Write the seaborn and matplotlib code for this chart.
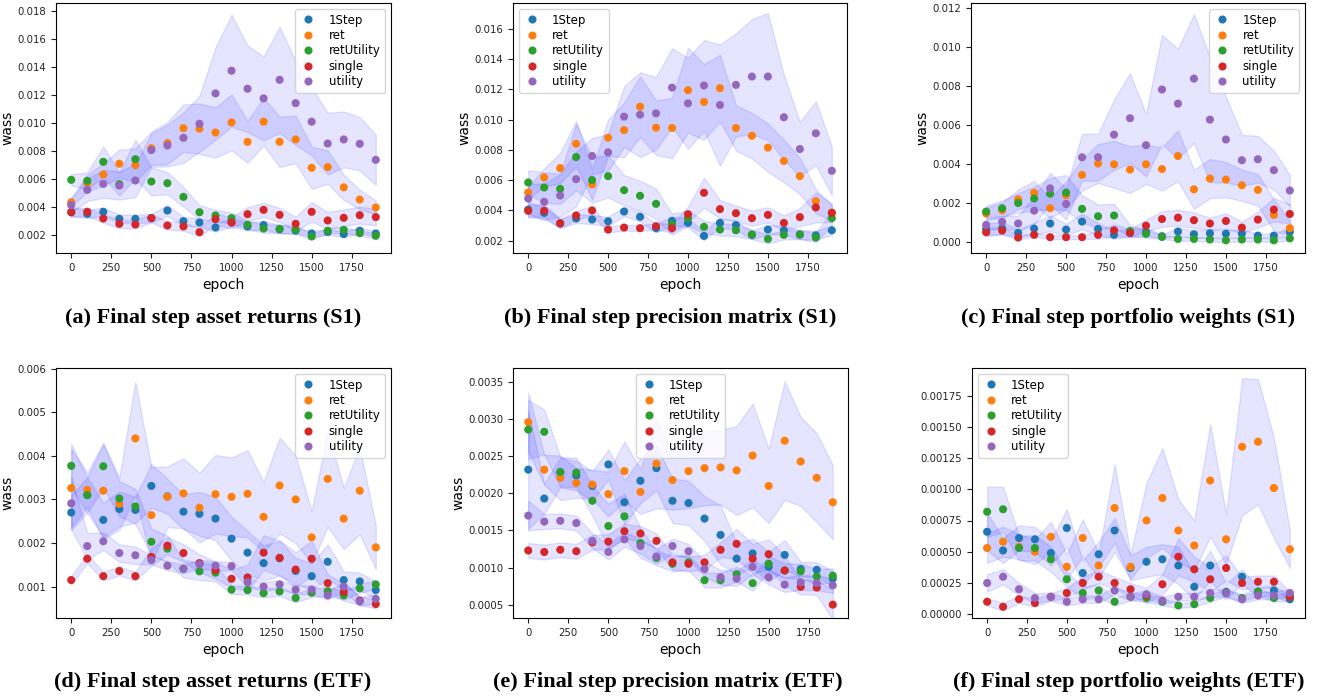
import numpy as np
import pandas as pd
import matplotlib
matplotlib.use("Agg")
import matplotlib.pyplot as plt
import seaborn as sns
from matplotlib.transforms import Bbox, TransformedBbox

epochs = list(range(0, 2000, 100))
methods = ['1Step', 'ret', 'retUtility', 'single', 'utility']

""" (a) asset returns S1 """
a_mean = {
	'1Step': [0.00362, 0.0035, 0.00365, 0.00315, 0.00315, 0.0032, 0.00374, 0.00298, 0.00288, 0.00253, 0.0029, 0.0026, 0.0027, 0.0024, 0.0023, 0.0021, 0.0022, 0.00205, 0.0023, 0.0021],
	'ret': [0.00434, 0.0057, 0.00632, 0.00709, 0.00699, 0.0082, 0.00857, 0.00964, 0.0096, 0.00933, 0.01005, 0.00866, 0.0101, 0.00866, 0.00883, 0.0068, 0.00685, 0.0054, 0.00453, 0.00396],
	'retUtility': [0.00594, 0.00587, 0.00723, 0.00563, 0.00742, 0.00582, 0.0057, 0.00472, 0.00362, 0.00339, 0.0032, 0.00272, 0.00245, 0.00243, 0.00236, 0.00188, 0.00229, 0.00236, 0.00212, 0.00193],
	'single': [0.00362, 0.00365, 0.00317, 0.00279, 0.00274, 0.0032, 0.00267, 0.0026, 0.00219, 0.00312, 0.00288, 0.00348, 0.00379, 0.00343, 0.00279, 0.00365, 0.00303, 0.00322, 0.00341, 0.00327],
	'utility': [0.00413, 0.00522, 0.00565, 0.00553, 0.00589, 0.00807, 0.0084, 0.00895, 0.00995, 0.01213, 0.01375, 0.01246, 0.01177, 0.0131, 0.01143, 0.0101, 0.00854, 0.00883, 0.00852, 0.00737],
}
a_sd = {
	'1Step': [0.0003, 0.0003, 0.0003, 0.0003, 0.0003, 0.0003, 0.0004, 0.0003, 0.0003, 0.0003, 0.0003, 0.0003, 0.0003, 0.0003, 0.0002, 0.0002, 0.0002, 0.0002, 0.0002, 0.0002],
	'ret': [0.0003, 0.0006, 0.0008, 0.0010, 0.0012, 0.0012, 0.0015, 0.0017, 0.0018, 0.0018, 0.0020, 0.0015, 0.0017, 0.0018, 0.0017, 0.0015, 0.0012, 0.0009, 0.0007, 0.0005],
	'retUtility': [0.0004, 0.0006, 0.0011, 0.0008, 0.0014, 0.0010, 0.0008, 0.0007, 0.0005, 0.0004, 0.0004, 0.0003, 0.0003, 0.0003, 0.0003, 0.0002, 0.0002, 0.0002, 0.0002, 0.0002],
	'single': [0.0003, 0.0003, 0.0003, 0.0003, 0.0003, 0.0003, 0.0003, 0.0003, 0.0003, 0.0004, 0.0004, 0.0005, 0.0005, 0.0005, 0.0005, 0.0007, 0.0006, 0.0006, 0.0006, 0.0006],
	'utility': [0.0005, 0.0008, 0.0010, 0.0010, 0.0012, 0.0012, 0.0015, 0.0018, 0.0020, 0.0033, 0.0040, 0.0031, 0.0030, 0.0038, 0.0030, 0.0024, 0.0022, 0.0020, 0.0019, 0.0018],
}

""" (b) precision matrix S1 """
b_mean = {
	'1Step': [0.00405, 0.00383, 0.00313, 0.00346, 0.00339, 0.00328, 0.00392, 0.00357, 0.00282, 0.0033, 0.00317, 0.00231, 0.00317, 0.00302, 0.00238, 0.00273, 0.00268, 0.0024, 0.00235, 0.00268],
	'ret': [0.00518, 0.00617, 0.00679, 0.0084, 0.00571, 0.0088, 0.0093, 0.01085, 0.00946, 0.00944, 0.01194, 0.01116, 0.01207, 0.00944, 0.00893, 0.00814, 0.00726, 0.00626, 0.0046, 0.00385],
	'retUtility': [0.00584, 0.00551, 0.00542, 0.00752, 0.006, 0.00626, 0.00533, 0.00496, 0.00443, 0.00308, 0.00348, 0.00291, 0.00273, 0.00268, 0.0024, 0.00211, 0.00238, 0.0024, 0.0022, 0.00348],
	'single': [0.00397, 0.00397, 0.00315, 0.00366, 0.00399, 0.00273, 0.00286, 0.00282, 0.00295, 0.00282, 0.00374, 0.00516, 0.00408, 0.00381, 0.00348, 0.0037, 0.00317, 0.00355, 0.00419, 0.00383],
	'utility': [0.00478, 0.00456, 0.00498, 0.00606, 0.00759, 0.00783, 0.01019, 0.01032, 0.01041, 0.01211, 0.01107, 0.01225, 0.01096, 0.01229, 0.01284, 0.01284, 0.01015, 0.00805, 0.00909, 0.00661],
}
b_sd = {
	'1Step': [0.0005, 0.0004, 0.0003, 0.0003, 0.0003, 0.0003, 0.0003, 0.0003, 0.0003, 0.0003, 0.0003, 0.0003, 0.0003, 0.0003, 0.0003, 0.0003, 0.0003, 0.0003, 0.0003, 0.0003],
	'ret': [0.0004, 0.0006, 0.0010, 0.0015, 0.0010, 0.0012, 0.0018, 0.0020, 0.0018, 0.0020, 0.0028, 0.0025, 0.0022, 0.0015, 0.0015, 0.0016, 0.0014, 0.0012, 0.0008, 0.0005],
	'retUtility': [0.0008, 0.0010, 0.0010, 0.0022, 0.0015, 0.0014, 0.0010, 0.0010, 0.0010, 0.0007, 0.0005, 0.0004, 0.0004, 0.0004, 0.0003, 0.0003, 0.0003, 0.0003, 0.0003, 0.0005],
	'single': [0.0004, 0.0004, 0.0003, 0.0003, 0.0003, 0.0002, 0.0002, 0.0002, 0.0002, 0.0003, 0.0005, 0.0010, 0.0006, 0.0005, 0.0005, 0.0005, 0.0005, 0.0006, 0.0010, 0.0006],
	'utility': [0.0010, 0.0012, 0.0014, 0.0018, 0.0012, 0.0012, 0.0020, 0.0028, 0.0024, 0.0026, 0.0030, 0.0030, 0.0040, 0.0034, 0.0038, 0.0042, 0.0028, 0.0018, 0.0021, 0.0016],
}

""" (c) portfolio weights S1 """
c_mean = {
	'1Step': [0.00068, 0.00072, 0.00048, 0.0007, 0.00096, 0.00065, 0.00106, 0.00068, 0.00038, 0.00048, 0.00053, 0.00031, 0.00055, 0.00041, 0.00046, 0.00044, 0.00044, 0.00034, 0.00034, 0.00053],
	'ret': [0.00147, 0.00164, 0.0022, 0.00253, 0.00174, 0.00241, 0.00345, 0.00403, 0.00399, 0.00372, 0.00399, 0.00375, 0.00442, 0.00271, 0.00326, 0.00321, 0.00292, 0.00268, 0.0014, 0.00072],
	'retUtility': [0.00157, 0.00174, 0.00201, 0.00224, 0.00249, 0.00254, 0.00171, 0.00133, 0.00137, 0.00058, 0.00043, 0.00027, 0.00017, 0.00017, 0.00014, 0.0001, 0.00014, 0.00014, 0.0001, 0.0002],
	'single': [0.00051, 0.0006, 0.00024, 0.00038, 0.00026, 0.00026, 0.00026, 0.00038, 0.00061, 0.00048, 0.00085, 0.00119, 0.00126, 0.00113, 0.00096, 0.00109, 0.00075, 0.00116, 0.00167, 0.00145],
	'utility': [0.00089, 0.00104, 0.00096, 0.00162, 0.00276, 0.00196, 0.00435, 0.00435, 0.00551, 0.00635, 0.00497, 0.00782, 0.0071, 0.00838, 0.00628, 0.00526, 0.0042, 0.00425, 0.00369, 0.00265],
}
c_sd = {
	'1Step': [0.0003, 0.0003, 0.0002, 0.0003, 0.0004, 0.0003, 0.0004, 0.0003, 0.0002, 0.0002, 0.0002, 0.0001, 0.0002, 0.0002, 0.0002, 0.0002, 0.0002, 0.0001, 0.0001, 0.0002],
	'ret': [0.0003, 0.0004, 0.0005, 0.0006, 0.0005, 0.0007, 0.0008, 0.0010, 0.0012, 0.0012, 0.0010, 0.0011, 0.0013, 0.0010, 0.0010, 0.0009, 0.0008, 0.0008, 0.0008, 0.0004],
	'retUtility': [0.0003, 0.0004, 0.0005, 0.0006, 0.0008, 0.0009, 0.0007, 0.0006, 0.0006, 0.0003, 0.0002, 0.0001, 0.0001, 0.0001, 0.0001, 0.0001, 0.0001, 0.0001, 0.0001, 0.0001],
	'single': [0.0002, 0.0002, 0.0001, 0.0001, 0.0001, 0.0001, 0.0001, 0.0002, 0.0003, 0.0002, 0.0003, 0.0004, 0.0004, 0.0004, 0.0003, 0.0004, 0.0003, 0.0004, 0.0006, 0.0005],
	'utility': [0.0003, 0.0003, 0.0004, 0.0007, 0.0008, 0.0008, 0.0012, 0.0012, 0.0018, 0.0023, 0.0016, 0.0028, 0.0028, 0.0033, 0.0032, 0.0022, 0.0013, 0.0012, 0.0010, 0.0008],
}

""" (d) asset returns ETF """
d_mean = {
	'1Step': [0.0027, 0.0031, 0.00253, 0.00278, 0.00276, 0.00331, 0.00307, 0.00272, 0.00267, 0.00256, 0.0021, 0.00178, 0.00154, 0.00165, 0.00136, 0.00124, 0.00157, 0.00115, 0.00112, 0.00092],
	'ret': [0.00326, 0.00322, 0.0032, 0.0029, 0.0044, 0.00264, 0.00306, 0.00314, 0.00281, 0.00312, 0.00306, 0.00313, 0.0026, 0.00332, 0.003, 0.00213, 0.00347, 0.00256, 0.0032, 0.0019],
	'retUtility': [0.00377, 0.0031, 0.00376, 0.00302, 0.00284, 0.00203, 0.00187, 0.00141, 0.00135, 0.00132, 0.00093, 0.00092, 0.00085, 0.00089, 0.00074, 0.00086, 0.00089, 0.0008, 0.00096, 0.00105],
	'single': [0.00115, 0.00164, 0.00124, 0.00136, 0.00124, 0.00168, 0.00194, 0.00177, 0.00154, 0.00138, 0.00118, 0.00121, 0.00178, 0.00166, 0.00139, 0.00164, 0.00108, 0.00088, 0.00068, 0.0006],
	'utility': [0.00291, 0.00193, 0.00204, 0.00177, 0.00172, 0.00161, 0.00148, 0.00141, 0.00151, 0.00148, 0.00147, 0.0011, 0.001, 0.00105, 0.00093, 0.00093, 0.0008, 0.001, 0.00066, 0.00072],
}
d_sd = {
	'1Step': [0.0004, 0.0004, 0.0004, 0.0004, 0.0003, 0.0005, 0.0004, 0.0004, 0.0005, 0.0005, 0.0005, 0.0005, 0.0004, 0.0004, 0.0003, 0.0003, 0.0004, 0.0002, 0.0002, 0.0002],
	'ret': [0.0009, 0.0004, 0.0011, 0.0006, 0.0013, 0.0011, 0.0007, 0.0008, 0.0008, 0.0009, 0.0009, 0.0010, 0.0008, 0.0011, 0.0010, 0.0006, 0.0011, 0.0007, 0.0010, 0.0005],
	'retUtility': [0.0005, 0.0004, 0.0005, 0.0004, 0.0004, 0.0003, 0.0003, 0.0002, 0.0002, 0.0002, 0.0001, 0.0001, 0.0001, 0.0001, 0.0001, 0.0001, 0.0001, 0.0001, 0.0001, 0.0001],
	'single': [0.0001, 0.0001, 0.0001, 0.0001, 0.0001, 0.0002, 0.0002, 0.0002, 0.0002, 0.0002, 0.0002, 0.0003, 0.0004, 0.0004, 0.0004, 0.0004, 0.0002, 0.0002, 0.0001, 0.0001],
	'utility': [0.0006, 0.0003, 0.0002, 0.0002, 0.0002, 0.0001, 0.0001, 0.0001, 0.0001, 0.0001, 0.0001, 0.0001, 0.0001, 0.0001, 0.0001, 0.0001, 0.0001, 0.0001, 0.0001, 0.0001],
}

""" (e) precision matrix ETF """
e_mean = {
	'1Step': [0.00232, 0.00193, 0.00228, 0.00224, 0.0021, 0.00239, 0.00188, 0.00217, 0.00234, 0.0019, 0.00187, 0.00166, 0.00144, 0.00112, 0.00119, 0.00101, 0.00117, 0.00098, 0.00097, 0.00085],
	'ret': [0.00296, 0.00232, 0.00221, 0.00214, 0.00212, 0.00199, 0.0023, 0.00202, 0.0024, 0.00218, 0.0023, 0.00234, 0.00235, 0.00231, 0.00251, 0.0021, 0.00271, 0.00243, 0.00221, 0.00188],
	'retUtility': [0.00286, 0.00283, 0.00229, 0.00228, 0.0019, 0.00156, 0.00169, 0.00133, 0.00113, 0.00105, 0.00107, 0.00083, 0.00083, 0.00091, 0.00079, 0.00105, 0.00096, 0.00095, 0.00088, 0.00089],
	'single': [0.00123, 0.00121, 0.00124, 0.00122, 0.00134, 0.00135, 0.00149, 0.00146, 0.00136, 0.00107, 0.00105, 0.00107, 0.00124, 0.00132, 0.00112, 0.00118, 0.00096, 0.00074, 0.00073, 0.0005],
	'utility': [0.0017, 0.00162, 0.00163, 0.0016, 0.00136, 0.00121, 0.00138, 0.00129, 0.00115, 0.00129, 0.00122, 0.00098, 0.00087, 0.00085, 0.00101, 0.00087, 0.00077, 0.0008, 0.00079, 0.00076],
}
e_sd = {
	'1Step': [0.0008, 0.0002, 0.0002, 0.0002, 0.0002, 0.0002, 0.0003, 0.0003, 0.0003, 0.0003, 0.0003, 0.0003, 0.0004, 0.0002, 0.0002, 0.0002, 0.0002, 0.0001, 0.0001, 0.0001],
	'ret': [0.0004, 0.0002, 0.0003, 0.0002, 0.0002, 0.0003, 0.0004, 0.0003, 0.0006, 0.0004, 0.0005, 0.0005, 0.0005, 0.0006, 0.0007, 0.0005, 0.0008, 0.0006, 0.0006, 0.0005],
	'retUtility': [0.0004, 0.0003, 0.0002, 0.0002, 0.0002, 0.0003, 0.0003, 0.0002, 0.0001, 0.0001, 0.0001, 0.0001, 0.0001, 0.0001, 0.0001, 0.0001, 0.0001, 0.0001, 0.0001, 0.0001],
	'single': [0.0001, 0.0001, 0.0001, 0.0001, 0.0001, 0.0001, 0.0001, 0.0001, 0.0001, 0.0001, 0.0001, 0.0001, 0.0001, 0.0002, 0.0002, 0.0002, 0.0002, 0.0001, 0.0001, 0.0002],
	'utility': [0.0002, 0.0001, 0.0001, 0.0001, 0.0001, 0.0001, 0.0001, 0.0001, 0.0001, 0.0001, 0.0001, 0.0001, 0.0001, 0.0001, 0.0001, 0.0001, 0.0001, 0.0001, 0.0001, 0.0001],
}

""" (f) portfolio weights ETF """
f_mean = {
	'1Step': [0.00066, 0.00051, 0.00061, 0.0006, 0.00049, 0.00069, 0.00033, 0.00048, 0.00067, 0.00037, 0.00042, 0.00044, 0.00039, 0.00022, 0.00039, 0.00018, 0.0003, 0.00018, 0.00019, 0.00012],
	'ret': [0.00053, 0.00058, 0.00054, 0.0005, 0.00062, 0.00038, 0.00061, 0.00039, 0.00085, 0.00038, 0.00075, 0.00093, 0.00067, 0.00055, 0.00107, 0.0006, 0.00134, 0.00138, 0.00101, 0.00052],
	'retUtility': [0.00082, 0.00084, 0.00053, 0.00053, 0.00044, 0.00028, 0.00017, 0.00019, 0.0001, 0.00014, 0.00013, 0.0001, 0.00007, 0.00008, 0.00013, 0.00017, 0.00013, 0.00018, 0.00013, 0.00014],
	'single': [0.0001, 0.00006, 0.00012, 0.00009, 0.00014, 0.00017, 0.00025, 0.0003, 0.00025, 0.0002, 0.00015, 0.00024, 0.00046, 0.00036, 0.00028, 0.00037, 0.00025, 0.00026, 0.00026, 0.00014],
	'utility': [0.00025, 0.0003, 0.0002, 0.00013, 0.00014, 0.0001, 0.00012, 0.00012, 0.00019, 0.00014, 0.00016, 0.00011, 0.00014, 0.00014, 0.00017, 0.00017, 0.00012, 0.00015, 0.00015, 0.00017],
}
f_sd = {
	'1Step': [0.00015, 0.0001, 0.0001, 0.0001, 0.0001, 0.00015, 0.0001, 0.0001, 0.0001, 0.0001, 0.00012, 0.00012, 0.00015, 0.0001, 0.00012, 0.00006, 0.00006, 0.00004, 0.00004, 0.00003],
	'ret': [0.00012, 0.00012, 0.0001, 0.0001, 0.00012, 0.0001, 0.00015, 0.0001, 0.00035, 0.0001, 0.0003, 0.0004, 0.00025, 0.0002, 0.00045, 0.0002, 0.00055, 0.0005, 0.0004, 0.00015],
	'retUtility': [0.0002, 0.00018, 0.0001, 0.0001, 0.0001, 0.00006, 0.00005, 0.00005, 0.00003, 0.00003, 0.00003, 0.00003, 0.00002, 0.00002, 0.00003, 0.00003, 0.00003, 0.00003, 0.00003, 0.00003],
	'single': [0.00003, 0.00003, 0.00003, 0.00003, 0.00003, 0.00004, 0.00005, 0.00005, 0.00005, 0.00005, 0.00006, 0.00008, 0.00015, 0.0001, 0.0001, 0.0001, 0.00005, 0.00005, 0.00005, 0.00004],
	'utility': [0.00007, 0.00006, 0.00005, 0.00004, 0.00003, 0.00003, 0.00003, 0.00003, 0.00003, 0.00003, 0.00003, 0.00003, 0.00003, 0.00003, 0.00003, 0.00003, 0.00003, 0.00003, 0.00003, 0.00003],
}

captions = ["(a) Final step asset returns (S1)",
			"(b) Final step precision matrix (S1)",
			"(c) Final step portfolio weights (S1)",
			"(d) Final step asset returns (ETF)",
			"(e) Final step precision matrix (ETF)",
			"(f) Final step portfolio weights (ETF)"]

a_yticks = [0.002, 0.004, 0.006, 0.008, 0.010, 0.012, 0.014, 0.016, 0.018]
b_yticks = [0.002, 0.004, 0.006, 0.008, 0.010, 0.012, 0.014, 0.016]
c_yticks = [0.000, 0.002, 0.004, 0.006, 0.008, 0.010, 0.012]
d_yticks = [0.001, 0.002, 0.003, 0.004, 0.005, 0.006]
e_yticks = [0.0005, 0.0010, 0.0015, 0.0020, 0.0025, 0.0030, 0.0035]
f_yticks = [0.0, 0.00025, 0.0005, 0.00075, 0.001, 0.00125, 0.0015, 0.00175]


def longForm(mean):
	""" stack a dict of series into a long dataframe for seaborn """
	rows = []
	for m in methods:
		for ep, v in zip(epochs, mean[m]):
			rows.append({'epoch': ep, 'wass': v, 'method': m})
	return pd.DataFrame(rows)


def panel(ax, mean, sd, yticks, ylim, fmt, loc):
	for m in methods:
		mu = np.array(mean[m])
		s = np.array(sd[m])
		ax.fill_between(epochs, mu - s, mu + s, color='blue', alpha=0.1)
	sns.scatterplot(data=longForm(mean), x='epoch', y='wass', hue='method',
					hue_order=methods, palette='tab10', s=34, linewidth=0, ax=ax, zorder=3)
	ax.set_xlim(-95, 1995)
	ax.set_ylim(*ylim)
	ax.set_xticks([0, 250, 500, 750, 1000, 1250, 1500, 1750])
	ax.set_yticks(yticks)
	ax.set_yticklabels([fmt % t for t in yticks])
	ax.tick_params(labelsize=7.3, colors='#222222')
	ax.set_xlabel('epoch', fontsize=10)
	ax.set_ylabel('wass', fontsize=10, labelpad=2)
	sns.move_legend(ax, loc, title=None, fontsize=8.5, labelspacing=0.2,
					handlelength=1.4, handletextpad=1.0)


fig = plt.figure(figsize=(13.2, 6.98), dpi=100)
W, H = 1320.0, 698.0

def axesAt(left, top, right, bottom):
	return fig.add_axes([left / W, 1 - bottom / H, (right - left) / W, (bottom - top) / H])

ax_a = axesAt(56, 3, 391, 253)
ax_b = axesAt(513, 3, 847, 253)
ax_c = axesAt(971, 3, 1305, 253)
ax_d = axesAt(56, 368, 391, 618)
ax_e = axesAt(513, 368, 848, 618)
ax_f = axesAt(972, 368, 1305, 618)

panel(ax_a, a_mean, a_sd, a_yticks, (0.0007, 0.0186), '%.3f', 'upper right')
panel(ax_b, b_mean, b_sd, b_yticks, (0.00118, 0.0177), '%.3f', 'upper left')
panel(ax_c, c_mean, c_sd, c_yticks, (-0.00055, 0.01225), '%.3f', 'upper right')
panel(ax_d, d_mean, d_sd, d_yticks, (0.00028, 0.006015), '%.3f', 'upper right')
panel(ax_e, e_mean, e_sd, e_yticks, (0.00032, 0.00369), '%.4f', 'upper center')
panel(ax_f, f_mean, f_sd, f_yticks, (-0.00003, 0.00197), '%.5f', 'upper left')

# the ylabel of the last panel is cut off by the subfigure edge
clip = TransformedBbox(Bbox([[916 / W, 0], [1, 1]]), fig.transFigure)
ax_f.yaxis.label.set_clip_box(clip)
ax_f.yaxis.label.set_clip_on(True)

cap_x = [213, 670, 1128, 213, 668, 1129]
cap_y = [318, 318, 318, 682, 682, 682]
for txt, cx, cy in zip(captions, cap_x, cap_y):
	fig.text(cx / W, 1 - cy / H, txt, ha='center', va='center',
			 fontsize=16, fontweight='bold', family='Liberation Serif')

fig.savefig('out.png', dpi=100)
